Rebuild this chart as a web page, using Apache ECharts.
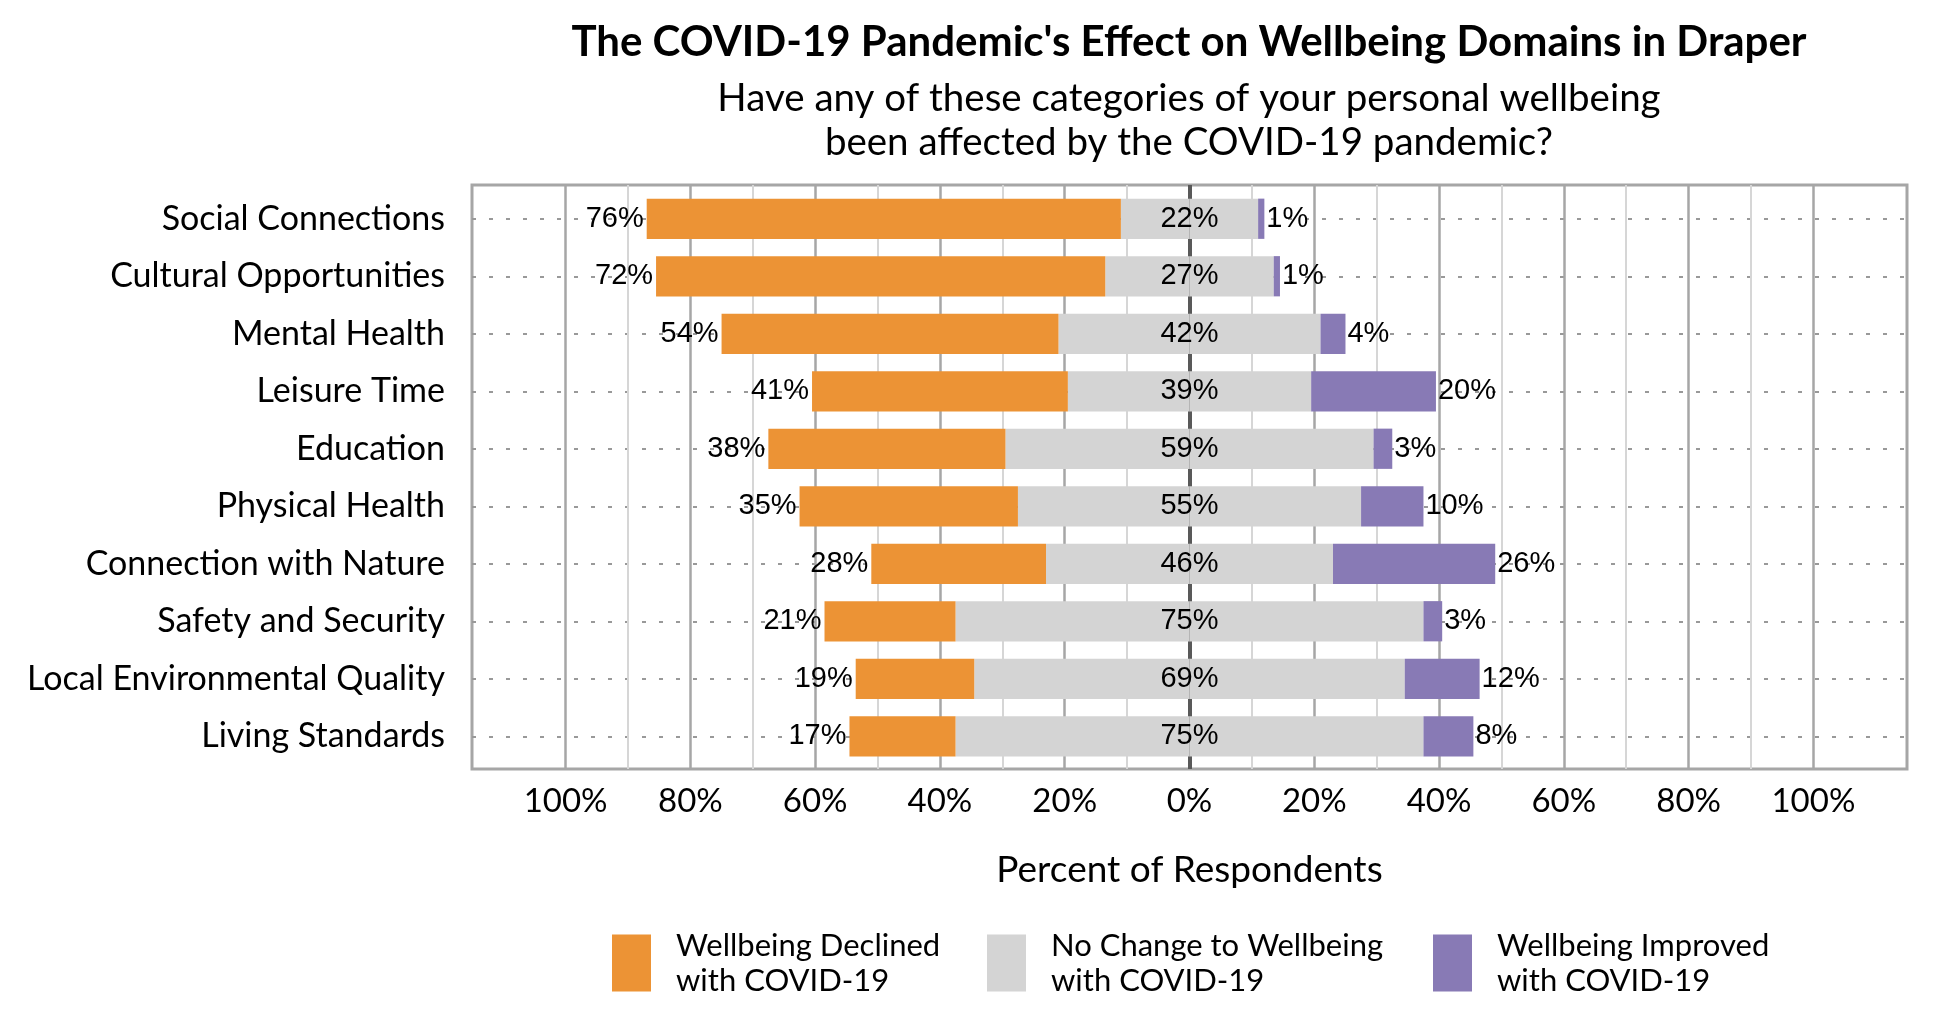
<!DOCTYPE html>
<html>
<head>
<meta charset="utf-8">
<title>COVID-19 Wellbeing Domains - Draper</title>
<script src="https://cdn.jsdelivr.net/npm/echarts@6/dist/echarts.min.js"></script>
<style>
    html, body { margin: 0; padding: 0; background: #fff; }
    #chart { width: 1950px; height: 1020px; }
</style>
</head>
<body>
<div id="chart"></div>
<script>
const chart = echarts.init(document.getElementById('chart'));

const categories = [
    'Social Connections', 'Cultural Opportunities', 'Mental Health', 'Leisure Time',
    'Education', 'Physical Health', 'Connection with Nature', 'Safety and Security',
    'Local Environmental Quality', 'Living Standards'
];
const declined = [76, 72, 54, 41, 38, 35, 28, 21, 19, 17];
const noChange = [22, 27, 42, 39, 59, 55, 46, 75, 69, 75];
const improved = [1, 1, 4, 20, 3, 10, 26, 3, 12, 8];

const majorTicks = [-100, -80, -60, -40, -20, 0, 20, 40, 60, 80, 100];
const minorTicks = [-90, -70, -50, -30, -10, 10, 30, 50, 70, 90];

const nameDeclined = 'Wellbeing Declined\nwith COVID-19';
const nameNoChange = 'No Change to Wellbeing\nwith COVID-19';
const nameImproved = 'Wellbeing Improved\nwith COVID-19';

const textFont = 'Lato';
const labelFont = 'Liberation Sans';

// vertical grid lines (full frame height)
let vLines = [];
majorTicks.forEach(function (v) {
    vLines.push({
        xAxis: v,
        lineStyle: v === 0
            ? { color: '#595959', width: 4, type: 'solid' }
            : { color: '#a6a6a6', width: 2.5, type: 'solid' }
    });
});
minorTicks.forEach(function (v) {
    vLines.push({ xAxis: v, lineStyle: { color: '#d6d6d6', width: 2, type: 'solid' } });
});
// dotted line through every row
let hLines = categories.map(function (c) {
    return { yAxis: c, lineStyle: { color: '#999999', width: 2, type: [4, 13] } };
});

function legendOf(name, left) {
    return {
        data: [name],
        left: left,
        top: 923,
        orient: 'horizontal',
        icon: 'rect',
        itemWidth: 39,
        itemHeight: 57,
        selectedMode: false,
        textStyle: {
            fontFamily: textFont,
            fontSize: 31,
            lineHeight: 35,
            color: '#000',
            padding: [0, 0, 0, 20]
        }
    };
}

function markLineOf(data) {
    return {
        z: 1,
        silent: true,
        symbol: 'none',
        label: { show: false },
        animation: false,
        data: data
    };
}

option = {
    animation: false,
    title: [
        {
            text: "The COVID-19 Pandemic's Effect on Wellbeing Domains in Draper",
            left: 1184,
            top: 16,
            textAlign: 'center',
            textStyle: {
                fontFamily: textFont,
                fontWeight: 'bold',
                fontSize: 42,
                color: '#000'
            }
        },
        {
            text: 'Have any of these categories of your personal wellbeing\nbeen affected by the COVID-19 pandemic?',
            left: 1184,
            top: 72,
            textAlign: 'center',
            textStyle: {
                fontFamily: textFont,
                fontWeight: 'normal',
                fontSize: 38.5,
                lineHeight: 44,
                color: '#000'
            }
        }
    ],
    legend: [
        legendOf(nameDeclined, 607),
        legendOf(nameNoChange, 982),
        legendOf(nameImproved, 1428)
    ],
    grid: [
        // rows
        { left: 472, right: 43, top: 190, bottom: 255, containLabel: false },
        // frame
        {
            left: 472, right: 43, top: 185, bottom: 251,
            show: true, borderColor: '#a6a6a6', borderWidth: 3, containLabel: false
        }
    ],
    xAxis: [
        {
            type: 'value',
            gridIndex: 0,
            min: -115,
            max: 115,
            interval: 5,
            name: 'Percent of Respondents',
            nameLocation: 'middle',
            nameGap: 87,
            nameTextStyle: {
                fontFamily: textFont,
                fontSize: 37,
                color: '#000'
            },
            axisLine: { show: false },
            axisTick: { show: false },
            splitLine: { show: false },
            axisLabel: {
                margin: 20,
                fontFamily: textFont,
                fontSize: 33,
                color: '#000',
                formatter: function (v) {
                    if (v % 20 === 0 && Math.abs(v) <= 100) {
                        return Math.abs(v) + '%';
                    }
                    return '';
                }
            }
        },
        {
            type: 'value',
            gridIndex: 1,
            min: -115,
            max: 115,
            show: false,
            splitLine: { show: false }
        }
    ],
    yAxis: [
        {
            type: 'category',
            gridIndex: 0,
            inverse: true,
            data: categories,
            axisLine: { show: false },
            axisTick: { show: false },
            splitLine: { show: false },
            axisLabel: {
                margin: 27,
                fontFamily: textFont,
                fontSize: 34,
                color: '#000'
            }
        },
        {
            type: 'value',
            gridIndex: 1,
            min: 0,
            max: 1,
            show: false,
            splitLine: { show: false }
        }
    ],
    series: [
        {
            name: nameNoChange,
            type: 'bar',
            stack: 'total',
            barCategoryGap: '30%',
            data: noChange.map(function (v) { return -v / 2; }),
            itemStyle: { color: '#d4d4d4' },
            label: { show: false }
        },
        {
            name: nameNoChange,
            type: 'bar',
            stack: 'total',
            data: noChange.map(function (v) { return v / 2; }),
            itemStyle: { color: '#d4d4d4' },
            label: {
                show: true,
                position: [0, '50%'],
                align: 'center',
                verticalAlign: 'middle',
                fontFamily: labelFont,
                fontSize: 29,
                color: '#000',
                formatter: function (p) { return noChange[p.dataIndex] + '%'; }
            }
        },
        {
            name: nameDeclined,
            type: 'bar',
            stack: 'total',
            data: declined.map(function (v) { return -v; }),
            itemStyle: { color: '#ec9335' },
            label: {
                show: true,
                position: 'left',
                distance: 3,
                fontFamily: labelFont,
                fontSize: 29,
                color: '#000',
                formatter: function (p) { return declined[p.dataIndex] + '%'; }
            }
        },
        {
            name: nameImproved,
            type: 'bar',
            stack: 'total',
            data: improved,
            itemStyle: { color: '#887ab5' },
            label: {
                show: true,
                position: 'right',
                distance: 2,
                fontFamily: labelFont,
                fontSize: 29,
                color: '#000',
                formatter: function (p) { return improved[p.dataIndex] + '%'; }
            }
        },
        {
            name: 'rowlines',
            type: 'line',
            xAxisIndex: 0,
            yAxisIndex: 0,
            data: [],
            silent: true,
            markLine: markLineOf(hLines)
        },
        {
            name: 'gridlines',
            type: 'line',
            xAxisIndex: 1,
            yAxisIndex: 1,
            data: [],
            silent: true,
            markLine: markLineOf(vLines)
        }
    ]
};
chart.setOption(option);
</script>
</body>
</html>
